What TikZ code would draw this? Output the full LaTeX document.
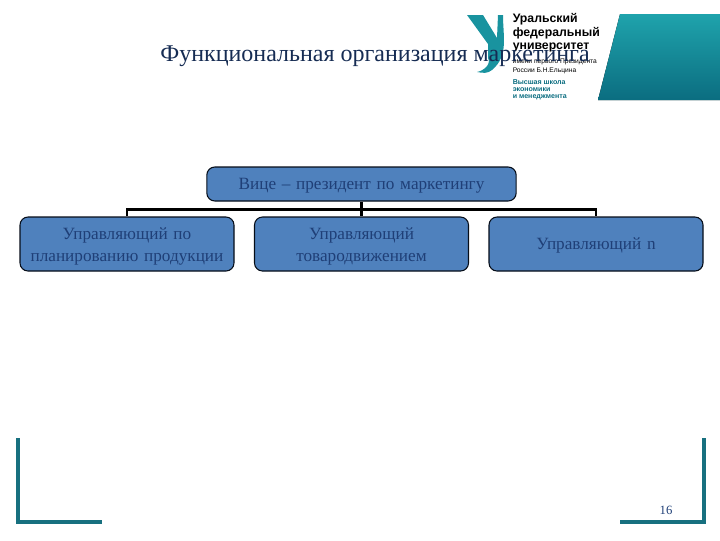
\documentclass[tikz,border=0pt]{standalone}
\usepackage{fontspec}
\setmainfont{Liberation Serif}
\setsansfont{Liberation Sans}
\usetikzlibrary{positioning}
\definecolor{boxfill}{HTML}{4F81BD}
\definecolor{boxtext}{HTML}{1F3F77}
\definecolor{frameteal}{HTML}{17707F}
\definecolor{bandlight}{HTML}{1FA3AC}
\definecolor{banddark}{HTML}{0B6D80}
\tikzset{
  unit/.style={draw=black!80!boxtext,line width=0.8pt,fill=boxfill,rounded corners=6pt,
    minimum height=40.5pt,text width=160.5pt,align=center,inner sep=0pt,
    execute at end node={\par\vspace*{-4pt}},
    text=boxtext,font=\fontsize{12.9}{16.5}\selectfont},
  link/.style={draw=black,line width=1.8pt},
  corner/.style={draw=frameteal,line width=2.6pt},
  logotext/.style={anchor=west,inner sep=0pt,font=\sffamily\bfseries\fontsize{9.2}{10}\selectfont,align=left}
}

\begin{document}
\begin{tikzpicture}[x=0.75pt,y=-0.75pt]
\useasboundingbox (0,0) rectangle (720,540);

% band and logo
\fill[top color=bandlight,bottom color=banddark] (598,100)--(620,14)--(720,14)--(720,100)--cycle;
\fill[bandlight!70!banddark] (467,15)--(483,15)--(497,38)--(498,15)--(503,15)
  to[out=270,in=40] (492,70) to[out=220,in=350] (477,72) to[out=10,in=300] (488,58)
  --(488,44)--cycle;
\node[logotext] (logoname) at (512.5,33) {Уральский\\федеральный\\университет};
\node[logotext,font=\sffamily\fontsize{5}{6.75}\selectfont] (logosub) at (512.5,66.5) {имени первого Президента\\России Б.Н.Ельцина};
\node[logotext,text=banddark,font=\sffamily\bfseries\fontsize{5.3}{5.25}\selectfont] (logoschool) at (512.5,90) {Высшая школа\\экономики\\и менеджмента};

\node[inner sep=0pt,text=boxtext!70!black,font=\fontsize{18}{20}\selectfont] (title) at (375,56) {Функциональная организация маркетинга};

% units
\node[unit,text width=232pt,minimum height=25.5pt] (vp) at (361.5,184) {Вице – президент по маркетингу};
\node[unit] (m1) at (127,244) {Управляющий по\\планированию продукции};
\node[unit] (m2) at (361.5,244) {Управляющий\\товародвижением};
\node[unit] (m3) at (596,244) {Управляющий n};

\coordinate (bus) at (361.5,209.5);
\draw[link] (vp.south)--(m2.north);
\draw[link] (m1.north)--(m1.north|-bus)--(m3.north|-bus)--(m3.north);

% frame corners
\coordinate (fl) at (18,438);
\coordinate (fb) at (18,522);
\coordinate (fe) at (102,522);
\coordinate (gl) at (704,438);
\coordinate (gb) at (704,522);
\coordinate (ge) at (620,522);
\draw[corner] (fl)--(fb)--(fe);
\draw[corner] (gl)--(gb)--(ge);
\node[inner sep=0pt,text=boxtext,font=\fontsize{9.5}{11}\selectfont] (page) at (666,510) {16};
\end{tikzpicture}
\end{document}
